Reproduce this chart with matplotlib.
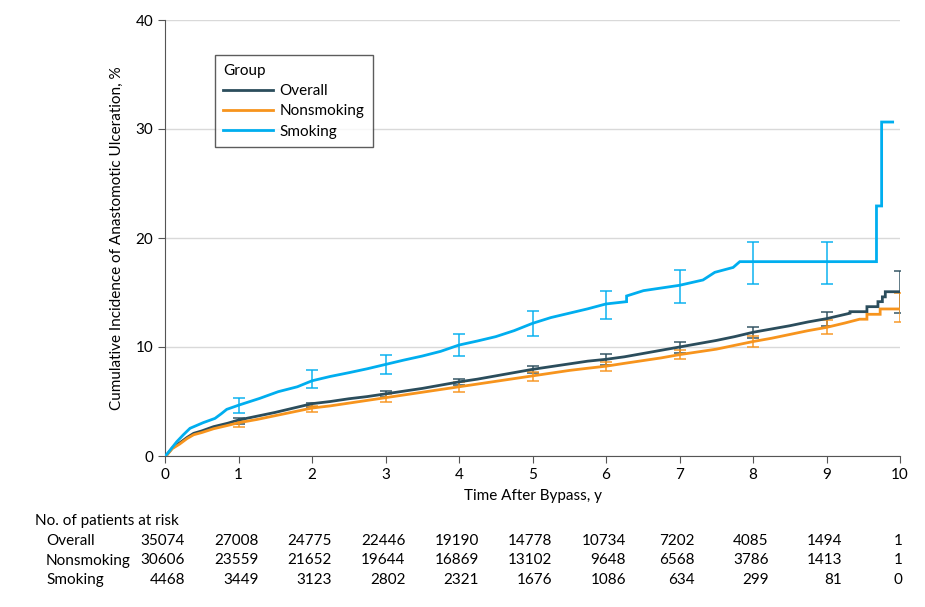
import numpy as np
import matplotlib
matplotlib.use("Agg")
import matplotlib.pyplot as plt
import matplotlib.transforms as mtransforms

plt.rcParams['font.family'] = ['Lato', 'DejaVu Sans']

# cumulative incidence curves; repeated times mark vertical jumps
t_overall = [0, 0.03, 0.1, 0.2, 0.3, 0.39, 0.5, 0.66, 0.85, 1.0, 1.25, 1.5, 1.75, 2.0,
             2.25, 2.5, 2.75, 3.0, 3.25, 3.5, 3.75, 4.0, 4.25, 4.5, 4.75, 5.0, 5.25, 5.5,
             5.75, 6.0, 6.25, 6.5, 6.75, 7.0, 7.25, 7.5, 7.75, 8.0, 8.25, 8.5, 8.75, 9.0,
             9.32, 9.32, 9.55, 9.55, 9.7, 9.7, 9.76, 9.76, 9.8, 9.8, 10.0]
y_overall = [0, 0.15, 0.75, 1.2, 1.7, 2.08, 2.3, 2.69, 3.0, 3.3, 3.65, 4.0, 4.4, 4.8,
             5.0, 5.25, 5.45, 5.7, 5.95, 6.2, 6.5, 6.8, 7.05, 7.35, 7.65, 7.95, 8.2, 8.45,
             8.7, 8.87, 9.1, 9.4, 9.7, 10.0, 10.3, 10.6, 10.95, 11.35, 11.65, 11.95, 12.3, 12.6,
             13.1, 13.24, 13.24, 13.7, 13.7, 14.16, 14.16, 14.6, 14.6, 15.07, 15.07]

t_nonsmoking = [0, 0.03, 0.1, 0.2, 0.3, 0.39, 0.5, 0.66, 0.85, 1.0, 1.25, 1.5, 1.75, 2.0,
                2.25, 2.5, 2.75, 3.0, 3.25, 3.5, 3.75, 4.0, 4.25, 4.5, 4.75, 5.0, 5.25, 5.5,
                5.75, 6.0, 6.25, 6.5, 6.75, 7.0, 7.25, 7.5, 7.75, 8.0, 8.25, 8.5, 8.75, 9.0,
                9.25, 9.45, 9.55, 9.55, 9.73, 9.73, 10.0]
y_nonsmoking = [0, 0.12, 0.68, 1.1, 1.6, 1.95, 2.15, 2.5, 2.8, 3.05, 3.35, 3.7, 4.05, 4.4,
                4.6, 4.85, 5.1, 5.35, 5.6, 5.85, 6.1, 6.35, 6.6, 6.85, 7.1, 7.35, 7.6, 7.85,
                8.05, 8.24, 8.5, 8.75, 9.0, 9.3, 9.55, 9.8, 10.15, 10.5, 10.8, 11.15, 11.5, 11.8,
                12.2, 12.55, 12.55, 13.0, 13.0, 13.49, 13.49]

t_smoking = [0, 0.03, 0.1, 0.16, 0.25, 0.34, 0.52, 0.68, 0.77, 0.84, 1.01, 1.29, 1.54, 1.8,
             2.0, 2.25, 2.5, 2.75, 3.0, 3.25, 3.5, 3.75, 4.0, 4.25, 4.5, 4.75, 5.0, 5.25, 5.5,
             5.75, 6.0, 6.28, 6.28, 6.51, 7.0, 7.32, 7.48, 7.73, 7.82, 9.68, 9.68, 9.75, 9.75, 9.9]
y_smoking = [0, 0.2, 0.8, 1.31, 1.95, 2.54, 3.06, 3.45, 3.9, 4.28, 4.68, 5.29, 5.9, 6.35,
             6.9, 7.3, 7.64, 8.0, 8.4, 8.8, 9.17, 9.6, 10.18, 10.55, 10.95, 11.5, 12.17, 12.7, 13.1,
             13.5, 13.95, 14.16, 14.68, 15.17, 15.66, 16.15, 16.85, 17.3, 17.83, 17.83, 22.94,
             22.94, 30.64, 30.64]

# 95% CI at yearly marks
ci_years_overall = [1, 2, 3, 4, 5, 6, 7, 8, 9, 10]
ci_lo_overall = [2.95, 4.52, 5.44, 6.51, 7.64, 8.38, 9.48, 10.83, 11.93, 13.15]
ci_hi_overall = [3.5, 4.89, 5.99, 7.06, 8.28, 9.36, 10.46, 11.86, 13.2, 17.0]

ci_years_nonsmoking = [1, 2, 3, 4, 5, 6, 7, 8, 9, 10]
ci_lo_nonsmoking = [2.69, 4.07, 4.98, 5.9, 6.9, 7.83, 8.87, 9.97, 11.16, 12.27]
ci_hi_nonsmoking = [3.2, 4.62, 5.69, 6.76, 7.73, 8.65, 9.72, 11.04, 12.48, 14.93]

ci_years_smoking = [1, 2, 3, 4, 5, 6, 7, 8, 9]
ci_lo_smoking = [3.94, 6.24, 7.5, 9.2, 11.0, 12.6, 14.07, 15.8, 15.8]
ci_hi_smoking = [5.32, 7.9, 9.24, 11.22, 13.33, 15.17, 17.06, 19.66, 19.66]

# number at risk
risk_years = [0, 1, 2, 3, 4, 5, 6, 7, 8, 9, 10]
risk_overall = [35074, 27008, 24775, 22446, 19190, 14778, 10734, 7202, 4085, 1494, 1]
risk_nonsmoking = [30606, 23559, 21652, 19644, 16869, 13102, 9648, 6568, 3786, 1413, 1]
risk_smoking = [4468, 3449, 3123, 2802, 2321, 1676, 1086, 634, 299, 81, 0]

groups = ['Overall', 'Nonsmoking', 'Smoking']
colors = {'Overall': '#2b4d5c', 'Nonsmoking': '#f7941d', 'Smoking': '#00aeef'}

fig = plt.figure(figsize=(9.25, 6.07), dpi=100)
ax = fig.add_axes([165 / 925, 1 - 456 / 607, 735 / 925, 436 / 607])

curves = {
    'Overall': (t_overall, y_overall, ci_years_overall, ci_lo_overall, ci_hi_overall),
    'Nonsmoking': (t_nonsmoking, y_nonsmoking, ci_years_nonsmoking, ci_lo_nonsmoking, ci_hi_nonsmoking),
    'Smoking': (t_smoking, y_smoking, ci_years_smoking, ci_lo_smoking, ci_hi_smoking),
}

for g in groups:
    t, y, cy, lo, hi = curves[g]
    c = colors[g]
    ax.plot(t, y, color=c, lw=2.0, label=g, zorder=3, solid_joinstyle='miter')
    mid = [(a + b) / 2 for a, b in zip(lo, hi)]
    err = [[m - a for m, a in zip(mid, lo)], [b - m for m, b in zip(mid, hi)]]
    ax.errorbar(cy, mid, yerr=err, fmt='none', ecolor=c, elinewidth=1.3,
                capsize=4.6, capthick=1.3, alpha=0.8, zorder=2)

FS = 11

ax.set_xlim(0, 10)
ax.set_ylim(0, 40)
ax.set_xticks(range(0, 11))
ax.set_yticks([0, 10, 20, 30, 40])
ax.yaxis.grid(True, color='#d9d9d9', lw=1)
ax.set_axisbelow(True)
for s in ['top', 'right']:
    ax.spines[s].set_visible(False)
for s in ['left', 'bottom']:
    ax.spines[s].set_color('#555555')
ax.tick_params(axis='both', colors='#555555', labelcolor='black', labelsize=FS, length=5)
ax.set_xlabel('Time After Bypass, y', fontsize=FS, labelpad=5)
ax.set_ylabel('Cumulative Incidence of Anastomotic Ulceration, %', fontsize=FS, labelpad=8)

leg = ax.legend(title='Group', loc='upper left', bbox_to_anchor=(0.057, 0.937),
                fontsize=FS, title_fontsize=FS, frameon=True, fancybox=False,
                edgecolor='#333333', handlelength=3.3, handletextpad=0.4,
                borderpad=0.55, labelspacing=0.42)
leg._legend_box.align = 'left'
leg.get_frame().set_linewidth(1.0)

# at-risk table
trans = mtransforms.blended_transform_factory(ax.transData, fig.transFigure)
fig.text(35 / 925, 1 - 521 / 607, 'No. of patients at risk', fontsize=FS, va='center', ha='left')
fig.text(46 / 925, 1 - 534 / 607, '\n'.join(groups), fontsize=FS, va='top', ha='left',
         linespacing=1.5)
for i, yr in enumerate(risk_years):
    col = '\n'.join(str(v) for v in (risk_overall[i], risk_nonsmoking[i], risk_smoking[i]))
    ax.text(yr - 0.03, 1 - 534 / 607, col, transform=trans, fontsize=FS, va='top',
            ha='center', multialignment='right', linespacing=1.5)

fig.savefig('out.png', dpi=100)
